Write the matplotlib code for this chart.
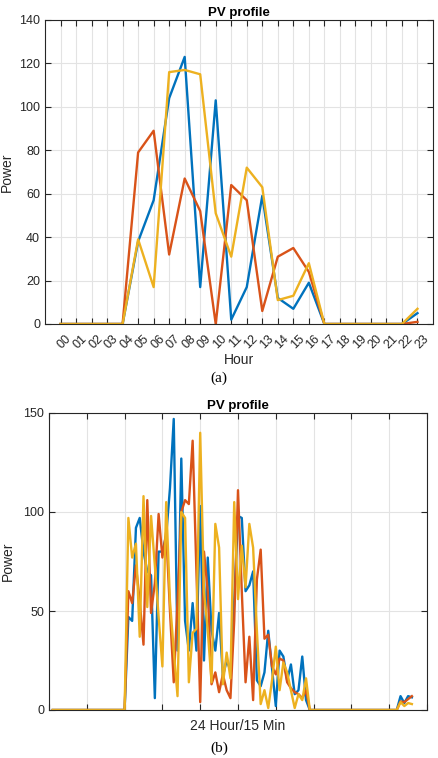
import numpy as np
import matplotlib
matplotlib.use("Agg")
import matplotlib.pyplot as plt
import matplotlib.transforms as mtransforms

plt.rcParams['font.family'] = ['Liberation Sans', 'DejaVu Sans']

# --- hourly profile (a) ---
hours = list(range(24))
hour_labels = [f"{h:02d}" for h in hours]
pv_hourly_1 = [0, 0, 0, 0, 0, 38, 57, 104, 123, 17, 103, 2, 17, 59, 12, 7, 19, 0, 0, 0, 0, 0, 0, 5]
pv_hourly_2 = [0, 0, 0, 0, 0, 79, 89, 32, 67, 52, 0, 64, 57, 6, 31, 35, 24, 0, 0, 0, 0, 0, 0, 1]
pv_hourly_3 = [0, 0, 0, 0, 0, 39, 17, 116, 117, 115, 51, 31, 72, 63, 11, 13, 28, 0, 0, 0, 0, 0, 0, 7]

# --- 15 minute profile (b), samples 1..96 ---
quarters = list(range(1, 97))
zeros_am = [0] * 20
zeros_pm = [0] * 24
pv_q_1 = zeros_am + [47, 45, 92, 97, 80, 70, 68, 6, 80, 80, 88, 112, 147, 30, 127, 45,
                     30, 54, 30, 103, 25, 77, 40, 30, 49, 17, 25, 20, 55, 98, 97, 60,
                     63, 70, 15, 12, 19, 40, 21, 2, 30, 27, 15, 23, 8, 10, 27, 5] + zeros_pm + [7, 3.5, 7, 6.4]
pv_q_2 = zeros_am + [60, 54, 73, 55, 33, 106, 49, 64, 99, 77, 90, 50, 14, 55, 100, 106,
                     104, 136, 70, 4, 80, 60, 13, 19, 9, 18, 10, 6, 45, 111, 60, 14,
                     37, 5, 66, 81, 36, 38, 22, 18, 26, 25, 14, 11, 9, 8, 6, 10] + zeros_pm + [4.3, 4, 5.5, 7]
pv_q_3 = zeros_am + [97, 77, 84, 37, 108, 52, 98, 73, 47, 22, 105, 55, 30, 7, 100, 97,
                     14, 39, 41, 140, 60, 40, 14, 94, 82, 13, 29, 16, 105, 56, 83, 62,
                     94, 82, 40, 3, 10, 1, 15, 32, 10, 24, 19, 10, 1, 8, 5, 16] + zeros_pm + [4, 2, 3.5, 3]

COLORS = ['#0072BD', '#D95319', '#EDB120']
AX_COLOR = '#262626'


def style_axes(ax):
    ax.set_facecolor('white')
    ax.grid(True, color='#e3e3e3', linewidth=0.8)
    ax.set_axisbelow(True)
    for s in ax.spines.values():
        s.set_color(AX_COLOR)
        s.set_linewidth(0.8)
    ax.tick_params(direction='in', length=4, width=0.8, colors=AX_COLOR,
                   labelsize=9, top=True, right=True)


fig = plt.figure(figsize=(4.38, 7.58), dpi=100)

# top chart
ax1 = fig.add_axes([45 / 438, 1 - 324 / 758, 388 / 438, 304 / 758])
for vals, c in zip([pv_hourly_1, pv_hourly_2, pv_hourly_3], COLORS):
    ax1.plot(hours, vals, color=c, linewidth=1.7)
ax1.set_xlim(-1, 24)
ax1.set_ylim(0, 140)
ax1.set_xticks(hours)
ax1.set_xticklabels(hour_labels, rotation=45, ha='right', rotation_mode='anchor')
ax1.set_yticks(range(0, 141, 20))
style_axes(ax1)
ax1.tick_params(axis='x', pad=6)
shift = mtransforms.ScaledTranslation(5 / 100, 0, fig.dpi_scale_trans)
for lbl in ax1.get_xticklabels():
    lbl.set_transform(lbl.get_transform() + shift)
ax1.set_title('PV profile', fontsize=9.5, fontweight='bold', pad=3)
ax1.set_xlabel('Hour', fontsize=10, color=AX_COLOR, labelpad=2)
ax1.set_ylabel('Power', fontsize=10, color=AX_COLOR, labelpad=4)
fig.text(0.5, 1 - 378 / 758, '(a)', ha='center', va='center',
         family='Liberation Serif', fontsize=11)

# bottom chart
ax2 = fig.add_axes([49 / 438, 1 - 710 / 758, 378 / 438, 297 / 758])
for vals, c in zip([pv_q_1, pv_q_2, pv_q_3], COLORS):
    ax2.plot(quarters, vals, color=c, linewidth=1.7)
ax2.set_xlim(0, 100)
ax2.set_ylim(0, 150)
ax2.set_xticks(range(0, 101, 10))
ax2.set_xticklabels([])
ax2.set_yticks([0, 50, 100, 150])
style_axes(ax2)
ax2.set_title('PV profile', fontsize=9.5, fontweight='bold', pad=3)
ax2.set_xlabel('24 Hour/15 Min', fontsize=10, color=AX_COLOR, labelpad=3)
ax2.set_ylabel('Power', fontsize=10, color=AX_COLOR, labelpad=6)
fig.text(0.5, 1 - 748 / 758, '(b)', ha='center', va='center',
         family='Liberation Serif', fontsize=11)

fig.savefig('out.png', dpi=100)
